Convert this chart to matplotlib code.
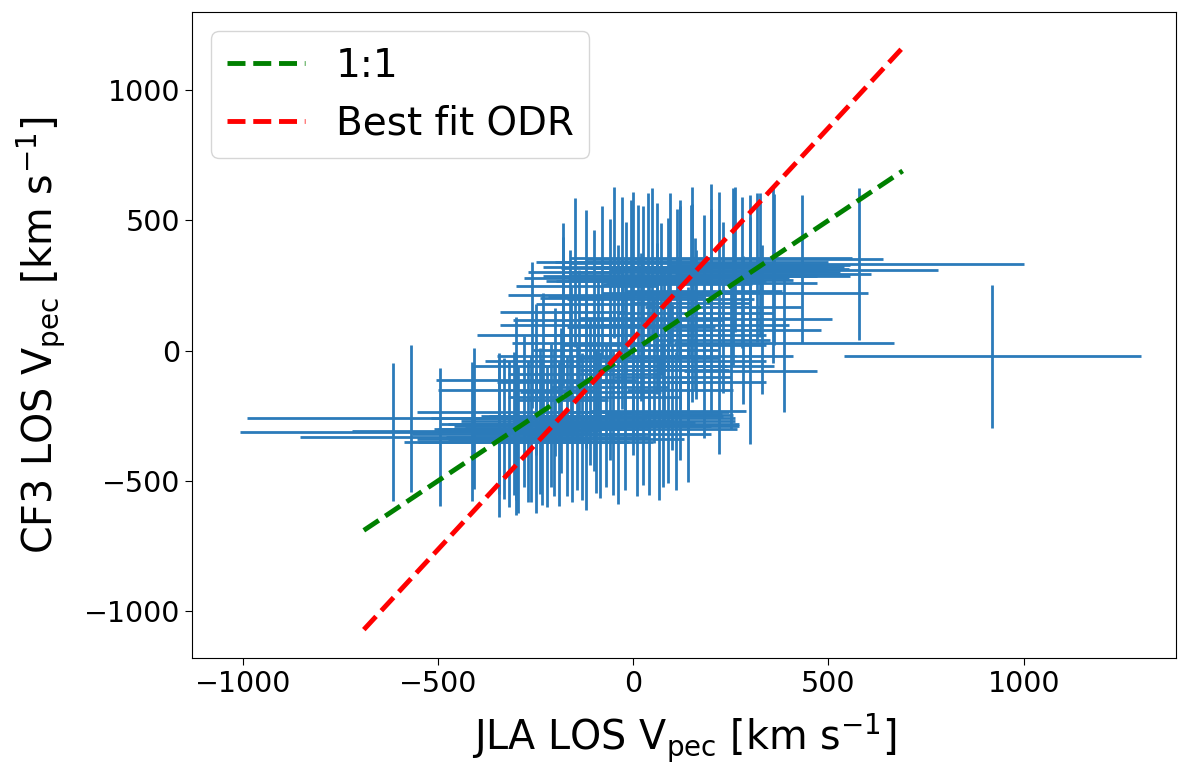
import matplotlib
matplotlib.use('Agg')
import matplotlib.pyplot as plt
import numpy as np

# JLA LOS peculiar velocity (x), CF3 LOS peculiar velocity (y) and their errors [km/s]
jla_v = [-616, -570, -494, -414, -345, -330, -317, -305, -294, -280,
         -270, -261, -250, -240, -233, -220, -210, -202, -190, -184,
         -170, -156, -145, -130, -120, -110, -95, -84, -70, -51,
         -40, -20, 0, 10, 26, 40, 54, 65, 77, 90,
         110, -300, -409, -345, -300,
         -250, -100, -20, -40, -60, -200, -230, -160, -140, -120,
         -90, -60, -30, 0, 20, 40, 60, 80, 100, 120,
         140, 160, 180, 200, 220, 230, 250, 280, 300, 330,
         386, 151, -161, -260, -180, -300, 120, 140,
         -179, -79, -28, -18, -5, 0, 13, 26, 38, 49,
         90, 95, 113, 120, 148, 159, 256, 279, 299, 317,
         325, 358, 432, 578, 360, 300, 200, 150, 120, -120,
         -150, -50, 70, 180, 220, 260, -100, 200, 60, 920]
cf3_v = [-311, -259, -330, -309, -340, -300, -320, -280, -340, -234,
         -310, -300, -350, -270, -310, -330, -250, -280, -320, -190,
         -290, -300, -260, -290, -340, -160, -270, -285, -250, -275,
         -320, -260, -120, -290, -235, -280, -75, -300, -245, -230,
         -270, -350, -260, -280, -300,
         -111, -177, 4, 119, 215, -120, -60, -40, 30, -90,
         -20, -140, 60, -60, 90, -30, 124, 20, -100, 60,
         -40, 100, -60, 40, -120, 167, -20, 80, -80, 120,
         30, 184, 100, 60, 150, -150, -150, -246,
         201, 267, 301, 205, 290, 320, 270, 267, 316, 336,
         221, 316, 255, 267, 270, 144, 286, 300, 305, 320,
         330, 295, 315, 334, 310, 222, 355, 340, 288, 250,
         300, 340, 200, 230, 320, 350, 180, 260, 280, -22]
jla_err = [392, 420, 360, 305, 210, 180, 250, 150, 180, 275,
           120, 240, 300, 200, 150, 260, 180, 290, 220, 120,
           260, 200, 180, 330, 250, 180, 200, 260, 300, 210,
           240, 280, 170, 260, 220, 230, 190, 200, 150, 200,
           150, 288, 110, 130, 160,
           256, 222, 236, 269, 262, 150, 180, 220, 170, 200,
           260, 150, 200, 240, 190, 180, 200, 260, 150, 220,
           200, 240, 180, 150, 120, 200, 160, 200, 170, 180,
           282, 150, 180, 140, 160, 200, 136, 116,
           60, 120, 140, 200, 160, 230, 180, 250, 150, 210,
           170, 280, 190, 220, 260, 200, 300, 250, 200, 180,
           230, 250, 120, 422, 420, 300, 361, 350, 350, 180,
           120, 200, 240, 200, 320, 380, 150, 270, 340, 380]
cf3_err = [265, 282, 265, 267, 300, 270, 279, 275, 282, 290,
           270, 280, 275, 280, 281, 270, 275, 280, 275, 278,
           270, 280, 276, 282, 270, 278, 275, 279, 275, 278,
           270, 275, 279, 270, 279, 275, 278, 275, 277, 277,
           265, 280, 270, 270, 275,
           290, 285, 280, 285, 290, 285, 280, 285, 280, 285,
           285, 280, 285, 280, 285, 285, 290, 285, 280, 285,
           285, 285, 275, 280, 275, 328, 280, 285, 280, 285,
           265, 380, 288, 280, 285, 280, 270, 260,
           290, 290, 290, 290, 290, 290, 290, 290, 290, 290,
           290, 290, 290, 290, 290, 290, 340, 291, 294, 286,
           276, 341, 284, 292, 290, 290, 285, 290, 290, 290,
           285, 290, 290, 290, 290, 280, 285, 285, 285, 275]

line_x = np.array([-690, 690])
odr_slope = 1.619
odr_intercept = 46

fig = plt.figure(figsize=(12, 7.75), dpi=100)
ax = fig.add_axes([0.16, 0.151, 0.82, 0.8335])

ax.errorbar(jla_v, cf3_v, xerr=jla_err, yerr=cf3_err, fmt='none',
            ecolor='#2b7bba', elinewidth=2)
ax.plot(line_x, line_x, '--', color='green', lw=3.5, label='1:1')
ax.plot(line_x, odr_slope * line_x + odr_intercept, '--', color='red', lw=3.5,
        label='Best fit ODR')

ax.set_xlim(-1130, 1390)
ax.set_ylim(-1180, 1300)
ax.set_xticks([-1000, -500, 0, 500, 1000])
ax.set_yticks([-1000, -500, 0, 500, 1000])
ax.tick_params(labelsize=20.5, length=5)
ax.set_xlabel(r'JLA LOS V$_{\rm pec}$ [km s$^{-1}$]', fontsize=28.5, labelpad=10)
ax.set_ylabel(r'CF3 LOS V$_{\rm pec}$ [km s$^{-1}$]', fontsize=28.5, labelpad=12)
ax.legend(loc='upper left', fontsize=28)

fig.savefig('out.png', dpi=100)
